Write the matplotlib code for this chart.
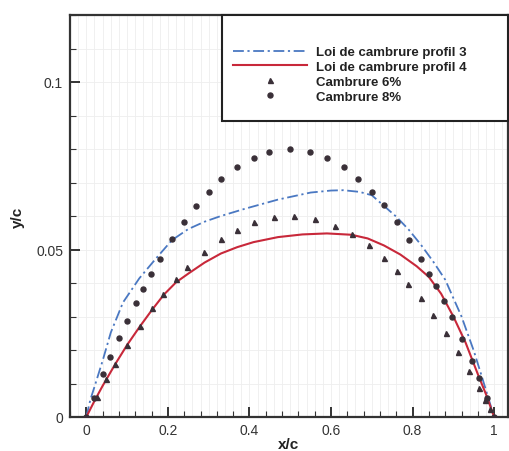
import matplotlib
matplotlib.use("Agg")
import matplotlib.pyplot as plt
from matplotlib.ticker import MultipleLocator, FixedLocator
from matplotlib.patches import Rectangle
import numpy as np

plt.rcParams['font.family'] = ['Liberation Sans', 'DejaVu Sans']

# --- data ---
x_profil3 = [0.0, 0.01, 0.02, 0.04, 0.06, 0.09, 0.13, 0.17, 0.21, 0.25, 0.29, 0.33, 0.39,
             0.47, 0.55, 0.60, 0.63, 0.67, 0.70, 0.73, 0.76, 0.79, 0.82, 0.85, 0.88,
             0.92, 0.95, 0.97, 1.0]
y_profil3 = [0.0, 0.0052, 0.0090, 0.0168, 0.0252, 0.0342, 0.0414, 0.0472, 0.0528, 0.0561,
             0.0583, 0.0600, 0.0622, 0.0649, 0.0670, 0.0676, 0.0677, 0.0672, 0.0662,
             0.0630, 0.0598, 0.0560, 0.0515, 0.0465, 0.0410, 0.0300, 0.0198, 0.0120, 0.0]

x_profil4 = [0.0, 0.02, 0.04, 0.07, 0.10, 0.13, 0.16, 0.19, 0.22, 0.25, 0.29, 0.33, 0.37,
             0.41, 0.47, 0.53, 0.59, 0.65, 0.69, 0.73, 0.77, 0.81, 0.84, 0.87, 0.90,
             0.93, 0.96, 0.98, 1.0]
y_profil4 = [0.0, 0.0048, 0.0093, 0.0156, 0.0215, 0.0268, 0.0318, 0.0365, 0.0402, 0.0428,
             0.0461, 0.0488, 0.0507, 0.0522, 0.0537, 0.0545, 0.0548, 0.0544, 0.0533,
             0.0512, 0.0485, 0.0450, 0.0418, 0.0368, 0.0300, 0.0222, 0.0128, 0.0068, 0.0]

x_camb6 = [0.0, 0.026, 0.049, 0.071, 0.100, 0.131, 0.161, 0.189, 0.220, 0.248, 0.289,
           0.331, 0.369, 0.410, 0.459, 0.510, 0.561, 0.610, 0.651, 0.692, 0.729, 0.761,
           0.790, 0.820, 0.851, 0.882, 0.911, 0.939, 0.963, 0.978, 0.990, 1.0]
y_camb6 = [0.0, 0.0061, 0.0112, 0.0158, 0.0216, 0.0273, 0.0324, 0.0368, 0.0412, 0.0448,
           0.0493, 0.0532, 0.0559, 0.0581, 0.0596, 0.0600, 0.0591, 0.0571, 0.0545,
           0.0512, 0.0474, 0.0437, 0.0398, 0.0354, 0.0304, 0.0250, 0.0195, 0.0138,
           0.0088, 0.0052, 0.0024, 0.0]

x_camb8 = [0.0, 0.018, 0.042, 0.059, 0.080, 0.100, 0.121, 0.139, 0.159, 0.180, 0.210,
           0.239, 0.270, 0.300, 0.331, 0.369, 0.410, 0.449, 0.500, 0.549, 0.590, 0.631,
           0.667, 0.700, 0.729, 0.761, 0.792, 0.820, 0.841, 0.858, 0.877, 0.896, 0.921,
           0.945, 0.962, 0.982, 1.0]
y_camb8 = [0.0, 0.0058, 0.0129, 0.0178, 0.0236, 0.0288, 0.0340, 0.0383, 0.0428, 0.0472,
           0.0531, 0.0582, 0.0631, 0.0672, 0.0709, 0.0745, 0.0774, 0.0792, 0.0800,
           0.0792, 0.0774, 0.0745, 0.0711, 0.0672, 0.0632, 0.0582, 0.0527, 0.0472,
           0.0428, 0.0390, 0.0345, 0.0298, 0.0233, 0.0166, 0.0117, 0.0057, 0.0]

labels = ["Loi de cambrure profil 3", "Loi de cambrure profil 4", "Cambrure 6%", "Cambrure 8%"]
x_ticks = [0, 0.2, 0.4, 0.6, 0.8, 1.0]
x_ticklabels = ["0", "0.2", "0.4", "0.6", "0.8", "1"]
y_ticks = [0, 0.05, 0.1]
y_ticklabels = ["0", "0.05", "0.1"]

# --- figure ---
fig = plt.figure(figsize=(5.10, 4.52), dpi=100)
ax = fig.add_axes([70/510, 34/452, 438/510, 402/452])

c_blue = "#4a78c2"
c_red = "#c8283a"
c_mark = "#3a3038"

# grid
for gx in np.arange(-0.04, 1.04, 0.02):
    ax.axvline(gx, color="#eeeeee", lw=0.6, zorder=0)
for gy in np.arange(0.0, 0.121, 0.01):
    ax.axhline(gy, color="#eeeeee", lw=0.6, zorder=0)

l3, = ax.plot(x_profil3, y_profil3, color=c_blue, lw=1.3, dashes=[6, 2, 1.2, 2], zorder=3)
l4, = ax.plot(x_profil4, y_profil4, color=c_red, lw=1.5, zorder=3)
m6, = ax.plot(x_camb6, y_camb6, ls="none", marker="^", ms=3.6, color=c_mark, zorder=4)
m8, = ax.plot(x_camb8, y_camb8, ls="none", marker="o", ms=3.6, color=c_mark, zorder=4)

ax.set_xlim(-0.04, 1.034)
ax.set_ylim(0, 0.12)

ax.xaxis.set_major_locator(FixedLocator(x_ticks))
ax.set_xticklabels(x_ticklabels)
ax.yaxis.set_major_locator(FixedLocator(y_ticks))
ax.set_yticklabels(y_ticklabels)
ax.xaxis.set_minor_locator(MultipleLocator(0.04))
ax.yaxis.set_minor_locator(MultipleLocator(0.01))

ax.tick_params(which="both", direction="in", color="#333333", labelcolor="#333333",
               labelsize=10)
ax.tick_params(which="major", length=7, width=1.4, pad=5)
ax.tick_params(which="minor", length=4, width=0.8)
ax.tick_params(axis="x", which="major", pad=4)

for sp in ax.spines.values():
    sp.set_linewidth(1.6)
    sp.set_color("#333333")

ax.set_xlabel("x/c", fontsize=11, fontweight="bold", color="#222222", labelpad=0)
ax.set_ylabel("y/c", fontsize=11, fontweight="bold", color="#222222", labelpad=8)

# legend frame
ax.add_patch(Rectangle(((222-70)/438, (418-122)/402), (508-222)/438, (122-16)/402,
                       transform=ax.transAxes, facecolor="white", edgecolor="#222222",
                       lw=1.5, zorder=5, clip_on=False))
leg = ax.legend([l3, l4, m6, m8], labels, loc="upper left",
                bbox_to_anchor=((233-70)/438, (418-47)/402),
                frameon=False, borderpad=0, borderaxespad=0,
                handlelength=5.6, handletextpad=0.7, labelspacing=0.2,
                prop={"weight": "bold", "size": 9.5})
leg.set_zorder(6)
for t in leg.get_texts():
    t.set_color("#222222")

fig.savefig("out.png", dpi=100)
